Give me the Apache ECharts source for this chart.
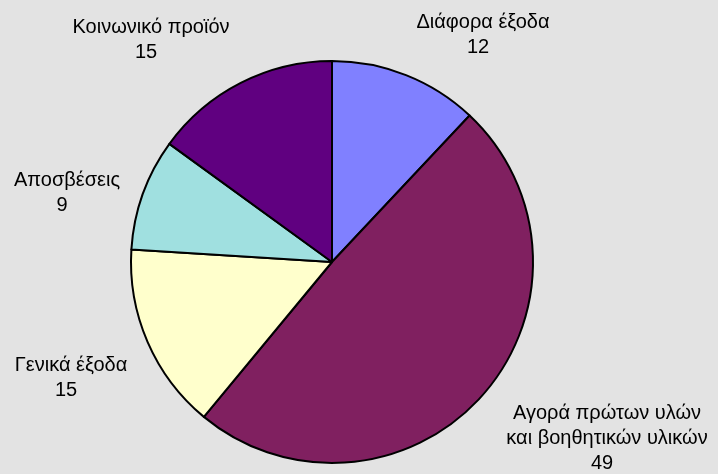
<!DOCTYPE html>
<html>
<head>
<meta charset="utf-8">
<script src="https://cdn.jsdelivr.net/npm/echarts@6/dist/echarts.min.js"></script>
<style>
  html, body { margin: 0; padding: 0; background: #e3e3e3; }
  #chart { width: 718px; height: 474px; }
</style>
</head>
<body>
<div id="chart"></div>
<script>
// Cost categories, clockwise from 12 o'clock
const categories = [
  'Διάφορα έξοδα',
  'Αγορά πρώτων υλών\nκαι βοηθητικών υλικών',
  'Γενικά έξοδα',
  'Αποσβέσεις',
  'Κοινωνικό προϊόν'
];
const values = [12, 49, 15, 9, 15];
const sliceColors = ['#8080ff', '#802060', '#ffffcc', '#a0e0e0', '#600080'];

// Centre point of each label block, in pixels
const labelAnchors = [
  [483, 35],
  [607, 438],
  [71, 378],
  [67, 193],
  [151, 40]
];

const chart = echarts.init(document.getElementById('chart'), null, { renderer: 'canvas' });

const textStyle = {
  color: '#000',
  fontFamily: 'Liberation Sans, Arial, sans-serif',
  fontSize: 20,
  lineHeight: 25
};

chart.setOption({
  backgroundColor: '#e3e3e3',
  animation: false,
  series: [{
    type: 'pie',
    center: [332, 262],
    radius: 201,
    startAngle: 90,
    clockwise: true,
    data: categories.map((name, i) => ({
      name: name,
      value: values[i],
      itemStyle: { color: sliceColors[i] }
    })),
    itemStyle: { borderColor: '#000', borderWidth: 2 },
    emphasis: { disabled: true },
    label: Object.assign({
      show: true,
      formatter: '{b}\n{v|{c}}',
      align: 'center',
      overflow: 'none',
      rich: {
        // value line sits a little left of the name's centre
        v: Object.assign({ padding: [0, 10, 0, 0] }, textStyle)
      }
    }, textStyle),
    labelLine: { show: false },
    labelLayout: function (params) {
      const p = labelAnchors[params.dataIndex];
      return { x: p[0], y: p[1], align: 'center', verticalAlign: 'middle' };
    }
  }]
});
</script>
</body>
</html>
